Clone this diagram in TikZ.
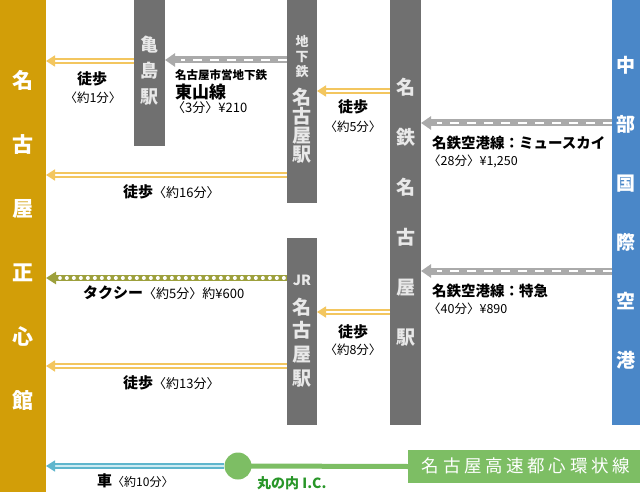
\documentclass[tikz,border=0pt]{standalone}
\usepackage{fontspec}
\setmainfont{Noto Sans CJK JP}
\usetikzlibrary{arrows.meta}
\definecolor{goldc}{RGB}{210,158,8}
\definecolor{barc}{RGB}{112,112,112}
\definecolor{bluec}{RGB}{74,135,200}
\definecolor{walkc}{RGB}{243,198,95}
\definecolor{railc}{RGB}{170,170,170}
\definecolor{taxic}{RGB}{157,160,60}
\definecolor{carc}{RGB}{95,182,205}
\definecolor{carin}{RGB}{205,235,242}
\definecolor{greenc}{RGB}{125,190,100}
\definecolor{ictext}{RGB}{40,150,40}
\definecolor{bartext}{RGB}{232,232,232}
\newcommand{\fs}[2]{\fontsize{#1}{#2}\selectfont}
\tikzset{
  rectbar/.style={rectangle, draw=none, inner sep=0pt, outer sep=0pt},
  vtext/.style={align=center, inner sep=0pt},
  lbl/.style={inner sep=0pt, text=black},
  walk/.style={draw=walkc, line width=1.7pt, double=white, double distance=2.3pt,
    -{Triangle[length=9pt,width=11pt]}},
  rail/.style={draw=railc, line width=7pt, -{Triangle[length=10pt,width=13pt]},
    postaction={draw=white, line width=2.6pt, dash pattern=on 9pt off 8pt, shorten >=16pt, -}},
  taxi/.style={draw=taxic, line width=6.5pt, -{Triangle[length=10pt,width=12pt]},
    postaction={draw=white, line width=3.6pt, line cap=round, dash pattern=on 0.3pt off 6.7pt, shorten >=14pt, shorten <=3pt, -}},
  car/.style={draw=carc, line width=1.5pt, double=carin, double distance=2.6pt,
    -{Triangle[length=9pt,width=11pt]}},
}
\begin{document}
\begin{tikzpicture}[x=1pt,y=-1pt]
\useasboundingbox (0,0) rectangle (640,492);
\fill[white] (0,0) rectangle (640,492);
% bars
\node[rectbar, fill=goldc, minimum width=46pt, minimum height=492pt] (left) at (23,246) {};
\node[rectbar, fill=barc, minimum width=31pt, minimum height=146pt] (kame) at (149.5,73) {};
\node[rectbar, fill=barc, minimum width=30pt, minimum height=203pt] (chika) at (302,101.5) {};
\node[rectbar, fill=barc, minimum width=31pt, minimum height=425pt] (mei) at (405.5,212.5) {};
\node[rectbar, fill=barc, minimum width=30pt, minimum height=187pt] (jr) at (302,331.5) {};
\node[rectbar, fill=bluec, minimum width=28pt, minimum height=425pt] (cen) at (626,212.5) {};
\node[rectbar, fill=greenc, minimum width=232pt, minimum height=33pt] (hw) at (524,466.5) {};
% bar texts
\node[vtext, text=white, font=\fs{21}{64}\bfseries] (tleft) at (23,240) {名\\古\\屋\\正\\心\\館};
\node[vtext, text=bartext, font=\fs{18}{26}\bfseries] (tkame) at (149.5,71) {亀\\島\\駅};
\node[vtext, text=bartext, font=\fs{13}{15}\bfseries] (tchika1) at (302,57) {地\\下\\鉄};
\node[vtext, text=bartext, font=\fs{19}{19}\bfseries] (tchika2) at (302,125.5) {名\\古\\屋\\駅};
\node[vtext, text=bartext, font=\fs{19}{50}\bfseries] (tmei) at (405.5,212) {名\\鉄\\名\\古\\屋\\駅};
\node[vtext, text=bartext, font=\fs{14}{16}\bfseries] (tjr1) at (302,280) {JR};
\node[vtext, text=bartext, font=\fs{19}{23.7}\bfseries] (tjr2) at (302,342.5) {名\\古\\屋\\駅};
\node[vtext, text=white, font=\fs{19}{59}\bfseries] (tcen) at (626,212.5) {中\\部\\国\\際\\空\\港};
\node[inner sep=0pt, text=white, font=\fs{17.5}{20}\addfontfeature{LetterSpace=21}] (thw) at (526,466) {名古屋高速都心環状線};
% interchange
\node[circle, fill=greenc, minimum size=27pt, inner sep=0pt] (ic) at (238,466) {};
\draw[greenc, line width=5pt] (ic.center) -- (hw.west);
% connectors
\draw[walk] (kame.west |- 0,61) -- (left.east |- 0,61);
\draw[rail] (chika.west |- 0,60) -- (kame.east |- 0,60);
\draw[walk] (mei.west |- 0,91) -- (chika.east |- 0,91);
\draw[rail] (cen.west |- 0,123) -- (mei.east |- 0,123);
\draw[walk] (chika.west |- 0,175) -- (left.east |- 0,175);
\draw[taxi] (jr.west |- 0,278) -- (left.east |- 0,278);
\draw[rail] (cen.west |- 0,271) -- (mei.east |- 0,271);
\draw[walk] (mei.west |- 0,312) -- (jr.east |- 0,312);
\draw[walk] (jr.west |- 0,366) -- (left.east |- 0,366);
\draw[car] (ic.west) -- (left.east |- ic.west);
% labels
\node[lbl, font=\fs{15}{18}\bfseries] (l1a) at (92,79) {徒歩};
\node[lbl, font=\fs{12.5}{14}] (l1b) at (93,98) {〈約1分〉};
\node[lbl, anchor=west, font=\fs{11.5}{14}\bfseries] (l2a) at (175,75) {名古屋市営地下鉄};
\node[lbl, anchor=west, font=\fs{17}{20}\bfseries] (l2b) at (175,92) {東山線};
\node[lbl, anchor=west, font=\fs{13}{15}] (l2c) at (172,108) {〈3分〉¥210};
\node[lbl, font=\fs{15}{18}\bfseries] (l3a) at (353,107) {徒歩};
\node[lbl, font=\fs{12.5}{14}] (l3b) at (353,127) {〈約5分〉};
\node[lbl, anchor=west, font=\fs{14.5}{18}\bfseries] (l4a) at (432,143) {名鉄空港線：ミュースカイ};
\node[lbl, anchor=west, font=\fs{12.5}{14}] (l4b) at (428,161) {〈28分〉¥1,250};
\node[lbl, anchor=west, font=\fs{15}{18}] (l5) at (123,192) {\textbf{徒歩}{\fs{13}{15}〈約16分〉}};
\node[lbl, anchor=west, font=\fs{15}{18}] (l6) at (83,293) {\textbf{タクシー}{\fs{13}{15}〈約5分〉約¥600}};
\node[lbl, anchor=west, font=\fs{14.5}{18}\bfseries] (l7a) at (432,291) {名鉄空港線：特急};
\node[lbl, anchor=west, font=\fs{12.5}{14}] (l7b) at (428,309) {〈40分〉¥890};
\node[lbl, font=\fs{15}{18}\bfseries] (l8a) at (353,332) {徒歩};
\node[lbl, font=\fs{12.5}{14}] (l8b) at (353,350) {〈約8分〉};
\node[lbl, anchor=west, font=\fs{15}{18}] (l9) at (123,383) {\textbf{徒歩}{\fs{13}{15}〈約13分〉}};
\node[lbl, anchor=west, font=\fs{15}{18}] (l10) at (97,481) {\textbf{車}{\fs{12}{14}〈約10分〉}};
\node[inner sep=0pt, anchor=west, text=ictext, font=\fs{14}{16}\bfseries] (lic) at (257,483) {丸の内 I.C.};
\end{tikzpicture}
\end{document}
